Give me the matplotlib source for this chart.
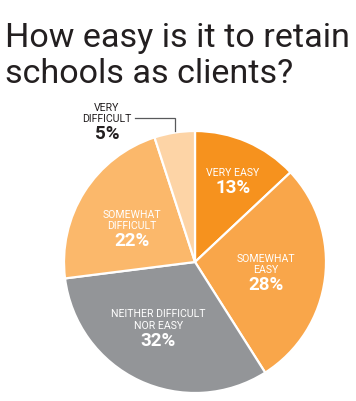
import numpy as np
import matplotlib
matplotlib.use("Agg")
import matplotlib.pyplot as plt

categories = ["VERY EASY", "SOMEWHAT\nEASY", "NEITHER DIFFICULT\nNOR EASY", "SOMEWHAT\nDIFFICULT", "VERY\nDIFFICULT"]
values = [13, 28, 32, 22, 5]
pct_labels = ["13%", "28%", "32%", "22%", "5%"]
colors = ["#F6921E", "#F9A64A", "#939598", "#FBB86B", "#FDD4A6"]
title_lines = ["How easy is it to retain", "schools as clients?"]

# layout (style): polar position of the percentage text for inside labels
pct_pos = [(0.635, 62.8), (0.57, -18.0), (0.665, -115.0), (0.507, 161.6)]

W, H = 356, 401
fig = plt.figure(figsize=(W / 100, H / 100), dpi=100)
FAM = ["Roboto", "DejaVu Sans"]

# title: two lines, fitted to reference width
t1 = fig.text(5 / W, 1 - 47 / H, title_lines[0], ha="left", va="baseline",
              fontsize=28, family=FAM, color="#231F20")
t2 = fig.text(5 / W, 1 - 83 / H, title_lines[1], ha="left", va="baseline",
              fontsize=28, family=FAM, color="#231F20")
fig.canvas.draw()
r = fig.canvas.get_renderer()
w1 = t1.get_window_extent(r).width
fs = 28 * 345 / w1
t1.set_fontsize(fs)
t2.set_fontsize(fs)

cx, cy, R = 195, 262, 131
ax = fig.add_axes([(cx - R) / W, (H - cy - R) / H, 2 * R / W, 2 * R / H])
wedges, _ = ax.pie(values, colors=colors, startangle=90, counterclock=False,
                   radius=1.0, wedgeprops=dict(edgecolor="white", linewidth=1.6))
ax.set_xlim(-1, 1)
ax.set_ylim(-1, 1)
ax.set_aspect("equal")
ax.axis("off")

px = 1.0 / R  # one pixel in data units
LINE = 11.5 * px
GAP = 15 * px


def put_label(x, y, cat, pct, col):
    ax.text(x, y, pct, ha="center", va="center", color=col, fontsize=13.5,
            family=FAM, fontweight="bold")
    lines = cat.split("\n")
    for k, ln in enumerate(reversed(lines)):
        ax.text(x, y + GAP + k * LINE, ln, ha="center", va="center", color=col,
                fontsize=7.6, family=FAM)


for i in range(4):
    rr, a = pct_pos[i]
    a = np.deg2rad(a)
    put_label(rr * np.cos(a), rr * np.sin(a), categories[i], pct_labels[i], "white")

# very difficult: outside label with leader line
w = wedges[4]
ang = np.deg2rad((w.theta1 + w.theta2) / 2)
xe, ye = np.cos(ang), np.sin(ang)
ly = 1.099
ax.plot([xe, xe, -0.458], [ye + 0.01, ly, ly], color="#58595B", lw=0.9,
        clip_on=False, solid_joinstyle="miter")
put_label(-0.672, 0.977, categories[4], pct_labels[4], "#231F20")

fig.savefig("out.png", dpi=100)
